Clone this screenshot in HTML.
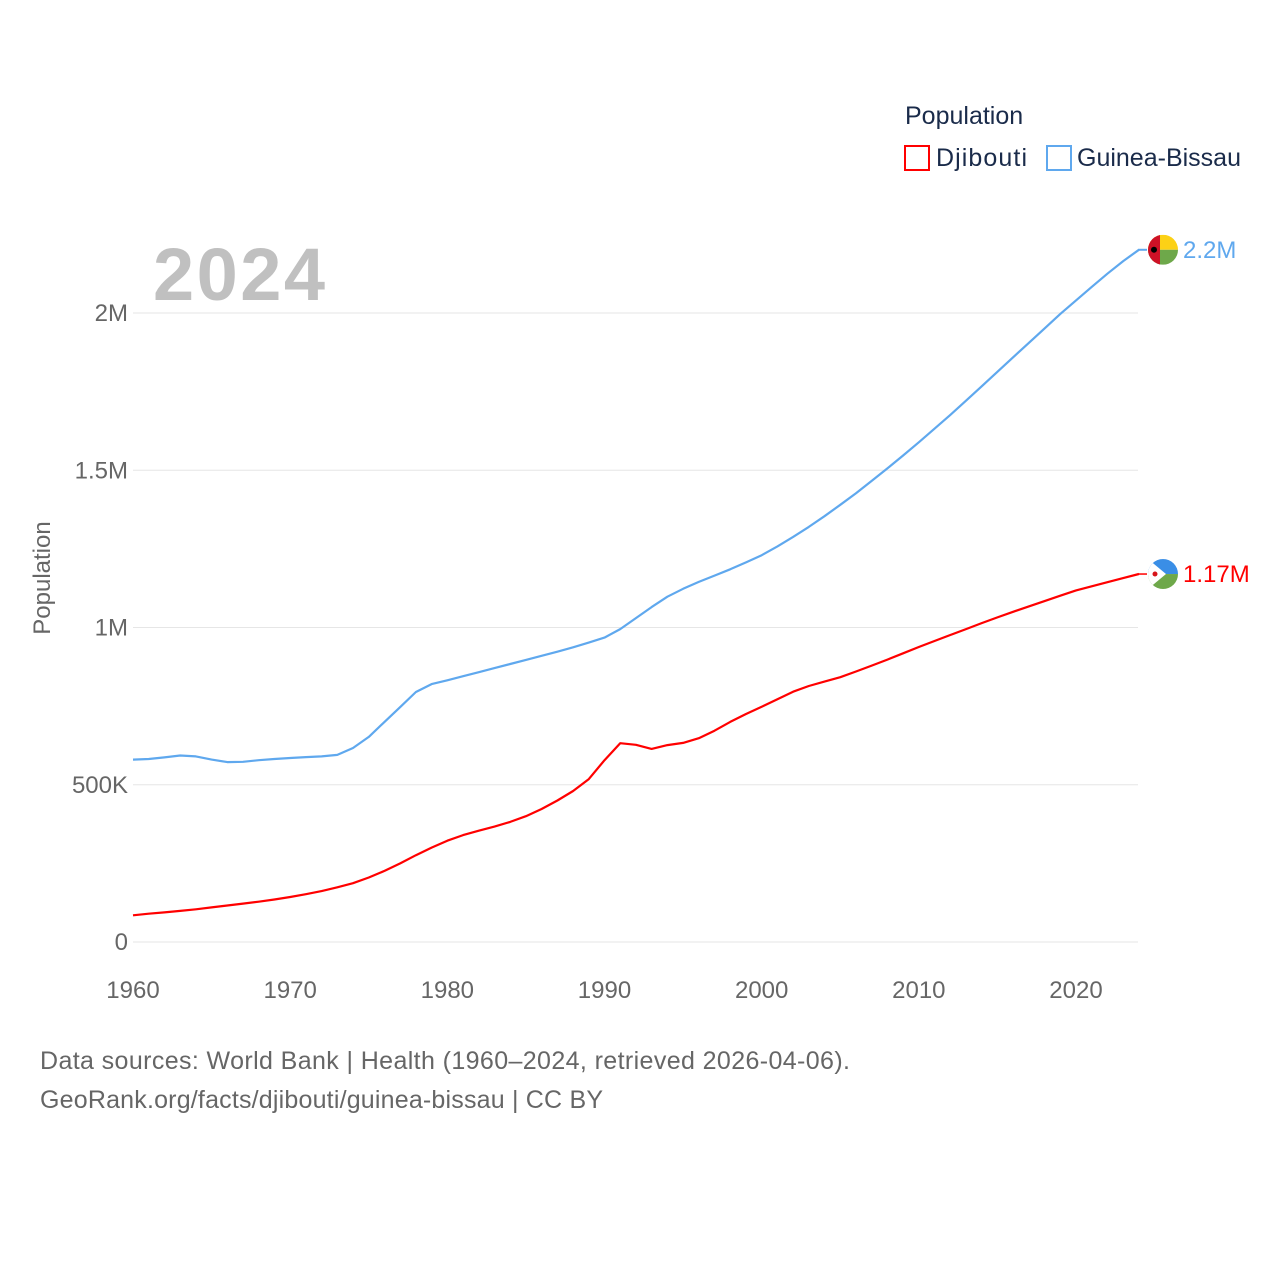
<!DOCTYPE html>
<html><head><meta charset="utf-8"><style>
body{margin:0;background:#fff;font-family:"Liberation Sans",sans-serif;}
svg text{font-family:"Liberation Sans",sans-serif;}
</style></head><body>
<svg id="chart" width="1280" height="1280" xmlns="http://www.w3.org/2000/svg">
<text x="905" y="124" font-size="25" fill="#1a2b4a">Population</text>
<rect x="905" y="146" width="24" height="24" fill="none" stroke="#ff0000" stroke-width="2"/>
<text x="936" y="166" font-size="25" fill="#1a2b4a" textLength="91">Djibouti</text>
<rect x="1047" y="146" width="24" height="24" fill="none" stroke="#5fa8ee" stroke-width="2"/>
<text x="1077" y="166" font-size="25" fill="#1a2b4a">Guinea-Bissau</text>
<text x="153" y="300" font-size="74" font-weight="bold" fill="#c0c0c0" textLength="172">2024</text>
<text transform="translate(50,578) rotate(-90)" text-anchor="middle" font-size="24" fill="#666">Population</text>
<g id="grid"></g><g id="xt"></g><g id="lines"></g><g id="ends"></g>
<text x="40" y="1069" font-size="25" fill="#666" textLength="810">Data sources: World Bank | Health (1960–2024, retrieved 2026-04-06).</text>
<text x="40" y="1108" font-size="25" fill="#666" textLength="563">GeoRank.org/facts/djibouti/guinea-bissau | CC BY</text>
</svg>
<script>
const years=[];for(let y=1960;y<=2024;y++)years.push(y);
const guineaBissau=[580,582,587,593,590,580,572,573,578,582,585,588,590,595,617,652,700,747,795,820,832,845,858,871,884,897,910,923,937,952,968,995,1030,1065,1098,1123,1145,1165,1185,1207,1230,1258,1288,1320,1354,1390,1427,1466,1506,1547,1589,1632,1676,1721,1767,1813,1859,1905,1951,1997,2040,2083,2125,2165,2201];
const djibouti=[85,90,94,99,104,110,116,122,128,135,143,152,162,174,187,205,226,250,276,300,322,340,354,367,382,400,423,450,480,518,578,632,627,614,626,633,648,672,700,725,748,772,796,814,828,842,860,879,898,918,938,957,976,995,1014,1032,1050,1067,1084,1101,1118,1131,1144,1157,1170];
const yTicks=[0,500,1000,1500,2000];
const yTickLabels=["0","500K","1M","1.5M","2M"];
const xTicks=[1960,1970,1980,1990,2000,2010,2020];
const NS="http://www.w3.org/2000/svg";
const X=y=>133+(y-1960)*(1076-133)/60;
const Y=v=>942-v*(942-313)/2000;
function mk(t,a,p){const e=document.createElementNS(NS,t);for(const k in a)e.setAttribute(k,a[k]);p.appendChild(e);return e;}
const grid=document.getElementById('grid');
yTicks.forEach((v,i)=>{
 const l=mk('line',{x1:133,x2:1138,y1:Y(v),y2:Y(v),stroke:'#e6e6e6','stroke-width':1},grid);
 
 
 const t=mk('text',{x:128,y:Y(v)+8,'text-anchor':'end','font-size':24,fill:'#666'},grid);t.textContent=yTickLabels[i];
 
 
});
const xt=document.getElementById('xt');
xTicks.forEach(y=>{const t=mk('text',{x:X(y),y:998,'text-anchor':'middle','font-size':24,fill:'#666'},xt);t.textContent=y;
 
 });
const lines=document.getElementById('lines');
function line(data,col,name){
 const d=data.map((v,i)=>(i?'L':'M')+X(years[i]).toFixed(1)+','+Y(v).toFixed(1)).join('');
 const p=mk('path',{d:d,fill:'none',stroke:col,'stroke-width':2.2,'stroke-linejoin':'round'},lines);
 
 
}
line(guineaBissau,'#5fa8ee','line-guinea-bissau');
line(djibouti,'#ff0000','line-djibouti');
const ends=document.getElementById('ends');
function flagGB(cx,cy){
 const g=mk('g',{},ends);
 
 
 mk('clipPath',{id:'cg'},g);mk('circle',{cx:cx,cy:cy,r:15},g.lastChild);
 const h=mk('g',{'clip-path':'url(#cg)'},g);
 mk('rect',{x:cx-15,y:cy-15,width:30,height:15,fill:'#fcd116'},h);
 mk('rect',{x:cx-15,y:cy,width:30,height:15,fill:'#6ea84a'},h);
 mk('rect',{x:cx-15,y:cy-15,width:12,height:30,fill:'#ce1126'},h);
 mk('circle',{cx:cx-9,cy:cy,r:3,fill:'#000'},h);
}
function flagDJ(cx,cy){
 const g=mk('g',{},ends);
 
 
 mk('clipPath',{id:'cd'},g);mk('circle',{cx:cx,cy:cy,r:15},g.lastChild);
 const h=mk('g',{'clip-path':'url(#cd)'},g);
 mk('rect',{x:cx-15,y:cy-15,width:30,height:15,fill:'#3a8ee6'},h);
 mk('rect',{x:cx-15,y:cy,width:30,height:15,fill:'#6ea84a'},h);
 mk('polygon',{points:`${cx-15},${cy-15} ${cx+3},${cy} ${cx-15},${cy+15}`,fill:'#fff'},h);
 mk('circle',{cx:cx-8,cy:cy,r:2.5,fill:'#d7141a'},h);
}
const gbEnd=guineaBissau[guineaBissau.length-1], djEnd=djibouti[djibouti.length-1];
mk('line',{x1:1138,x2:1147,y1:Y(gbEnd),y2:Y(gbEnd),stroke:'#5fa8ee','stroke-width':2},ends);
mk('line',{x1:1138,x2:1147,y1:Y(djEnd),y2:Y(djEnd),stroke:'#ff0000','stroke-width':1.5},ends);
flagGB(1163,Y(gbEnd));flagDJ(1163,Y(djEnd));
let t=mk('text',{x:1183,y:Y(gbEnd)+8,'font-size':24,fill:'#5fa8ee'},ends);t.textContent='2.2M';


t=mk('text',{x:1183,y:Y(djEnd)+8,'font-size':24,fill:'#ff0000'},ends);t.textContent='1.17M';


</script>
</body></html>
